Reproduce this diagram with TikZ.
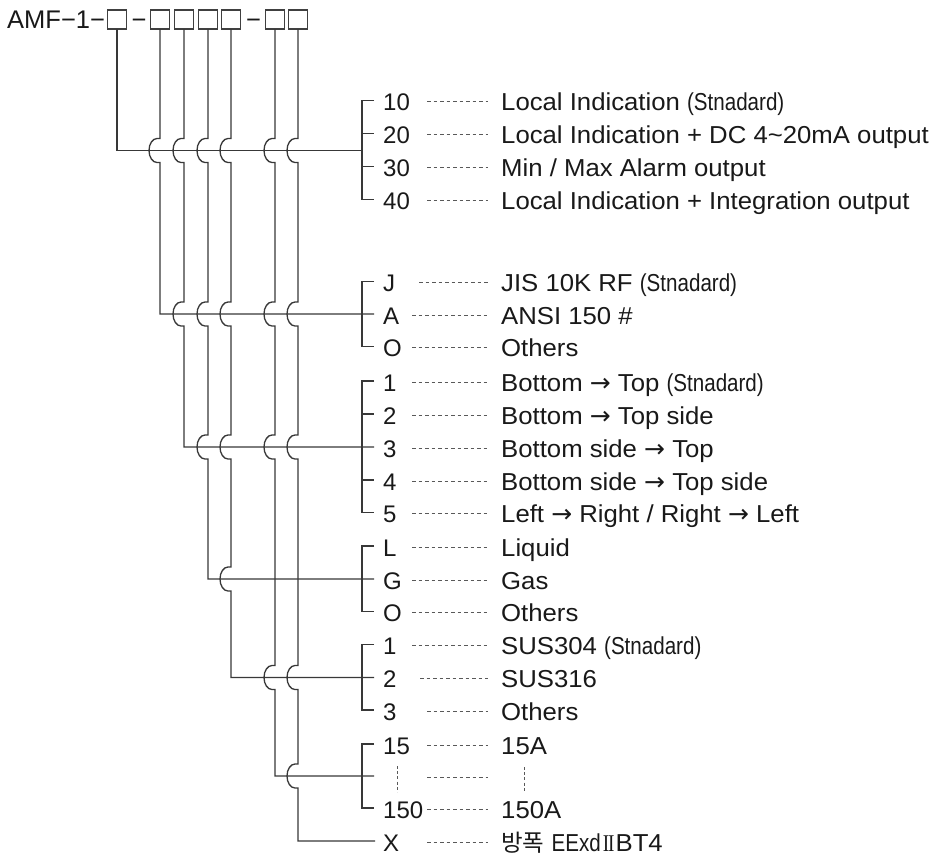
\documentclass[tikz,border=0pt]{standalone}
\usepackage{fontspec}
\setmainfont{Liberation Sans}
\newfontfamily\descfont[FakeStretch=1.05]{Liberation Sans}
\newfontfamily\krfont{Noto Sans CJK KR}
\newfontfamily\arrfont{DejaVu Sans}
\newfontfamily\romfont{Liberation Serif}
\newcommand\rarr{{\arrfont\fontsize{25}{26}\selectfont →}}
\newcommand\stnd{\scalebox{0.8}[1]{(Stnadard)}}
\newcommand\hop[2]{-- (#1,#2-12) -- (#1-3,#2-12) arc[start angle=90, end angle=270, x radius=8pt, y radius=12pt] -- (#1,#2+12)}
\newcommand\entry[5]{%
  \node[lbl] (l#1) at (383,#2+10) {#3};
  \draw[leader] (#5,#2+1) -- (488,#2+1);
  \node[desc] (d#1) at (501,#2+10) {#4};}
\begin{document}
\begin{tikzpicture}[x=1pt,y=-1pt,
  wire/.style={line width=1.3pt, draw=black!78, line join=miter},
  codebox/.style={draw=black!75, line width=1.1pt, minimum size=19pt, inner sep=0pt, outer sep=0pt},
  hdr/.style={anchor=base west, inner sep=0pt, text=black!90, font=\fontsize{25.5}{26}\selectfont},
  lbl/.style={anchor=base west, inner sep=0pt, text=black!90, font=\fontsize{24}{26}\selectfont},
  desc/.style={anchor=base west, inner sep=0pt, text=black!90, font=\descfont\fontsize{24.5}{26}\selectfont},
  leader/.style={line width=0.9pt, draw=black!65, dash pattern=on 3.6pt off 2.9pt},
  vdash/.style={line width=1pt, draw=black!65, dash pattern=on 3pt off 2.2pt}]
\useasboundingbox (0,0) rectangle (932,860);
\fill[white] (0,0) rectangle (932,860);
% header
\node[hdr] (amf) at (7,28.3) {AMF−1−};
\foreach \i/\x in {1/117,2/160,3/184,4/208,5/231,6/275,7/298}
  \node[codebox] (b\i) at (\x,19.5) {};
\node[hdr, anchor=base] (h1) at (139,28.3) {−};
\node[hdr, anchor=base] (h2) at (253.5,28.3) {−};
% code lines
\draw[wire] (b1.south) -- (117,150.5) -- (362,150.5);
\draw[wire] (b2.south) \hop{160}{150.5} -- (160,314) -- (374,314);
\draw[wire] (b3.south) \hop{184}{150.5} \hop{184}{314} -- (184,447) -- (374,447);
\draw[wire] (b4.south) \hop{208}{150.5} \hop{208}{314} \hop{208}{447} -- (208,579) -- (374,579);
\draw[wire] (b5.south) \hop{231}{150.5} \hop{231}{314} \hop{231}{447} \hop{231}{579} -- (231,677.5) -- (374,677.5);
\draw[wire] (b6.south) \hop{275}{150.5} \hop{275}{314} \hop{275}{447} \hop{275}{677.5} -- (275,776) -- (374,776);
\draw[wire] (b7.south) \hop{298}{150.5} \hop{298}{314} \hop{298}{447} \hop{298}{677.5} \hop{298}{776} -- (298,841) -- (375,841);
% brackets
\draw[wire] (374,100.5) -- (362,100.5) -- (362,199.5) -- (374,199.5) (362,133.5) -- (374,133.5) (362,166.5) -- (374,166.5);
\draw[wire] (374,281.5) -- (362,281.5) -- (362,346.5) -- (374,346.5);
\draw[wire] (374,381) -- (362,381) -- (362,512.5) -- (374,512.5) (362,414) -- (374,414) (362,480) -- (374,480);
\draw[wire] (374,546) -- (362,546) -- (362,611.5) -- (374,611.5);
\draw[wire] (374,644.5) -- (362,644.5) -- (362,710) -- (374,710);
\draw[wire] (374,744) -- (362,744) -- (362,808) -- (374,808);
% entries
\entry{r1}{100.5}{10}{Local Indication \stnd}{427}
\entry{r2}{133.5}{20}{Local Indication + DC 4\textasciitilde 20mA output}{427}
\entry{r3}{166.5}{30}{Min / Max Alarm output}{427}
\entry{r4}{199.5}{40}{Local Indication + Integration output}{427}
\entry{r5}{281.5}{J}{JIS 10K RF \stnd}{419}
\entry{r6}{314}{A}{ANSI 150 \#}{412}
\entry{r7}{346.5}{O}{Others}{412}
\entry{r8}{381}{1}{Bottom \rarr{} Top \stnd}{412}
\entry{r9}{414}{2}{Bottom \rarr{} Top side}{412}
\entry{r10}{447}{3}{Bottom side \rarr{} Top}{412}
\entry{r11}{480}{4}{Bottom side \rarr{} Top side}{412}
\entry{r12}{512.5}{5}{Left \rarr{} Right / Right \rarr{} Left}{412}
\entry{r13}{546}{L}{Liquid}{412}
\entry{r14}{579}{G}{Gas}{412}
\entry{r15}{611.5}{O}{Others}{412}
\entry{r16}{644.5}{1}{SUS304 \stnd}{412}
\entry{r17}{677.5}{2}{SUS316}{420}
\entry{r18}{710}{3}{Others}{427}
\entry{r19}{744}{15}{15A}{427}
\draw[vdash] (397,766) -- (397,792);
\draw[leader] (427,777) -- (488,777);
\draw[vdash] (524,767) -- (524,792);
\entry{r21}{808}{150}{150A}{427}
\entry{r22}{841}{X}{{\krfont\fontsize{23.5}{26}\selectfont 방폭} \scalebox{0.8}[1]{EExd}\hspace{2pt}\scalebox{0.8}[1]{\romfont\fontsize{24}{26}\selectfont I\kern-1.2pt I}\hspace{1pt}BT4}{427}
\end{tikzpicture}
\end{document}
